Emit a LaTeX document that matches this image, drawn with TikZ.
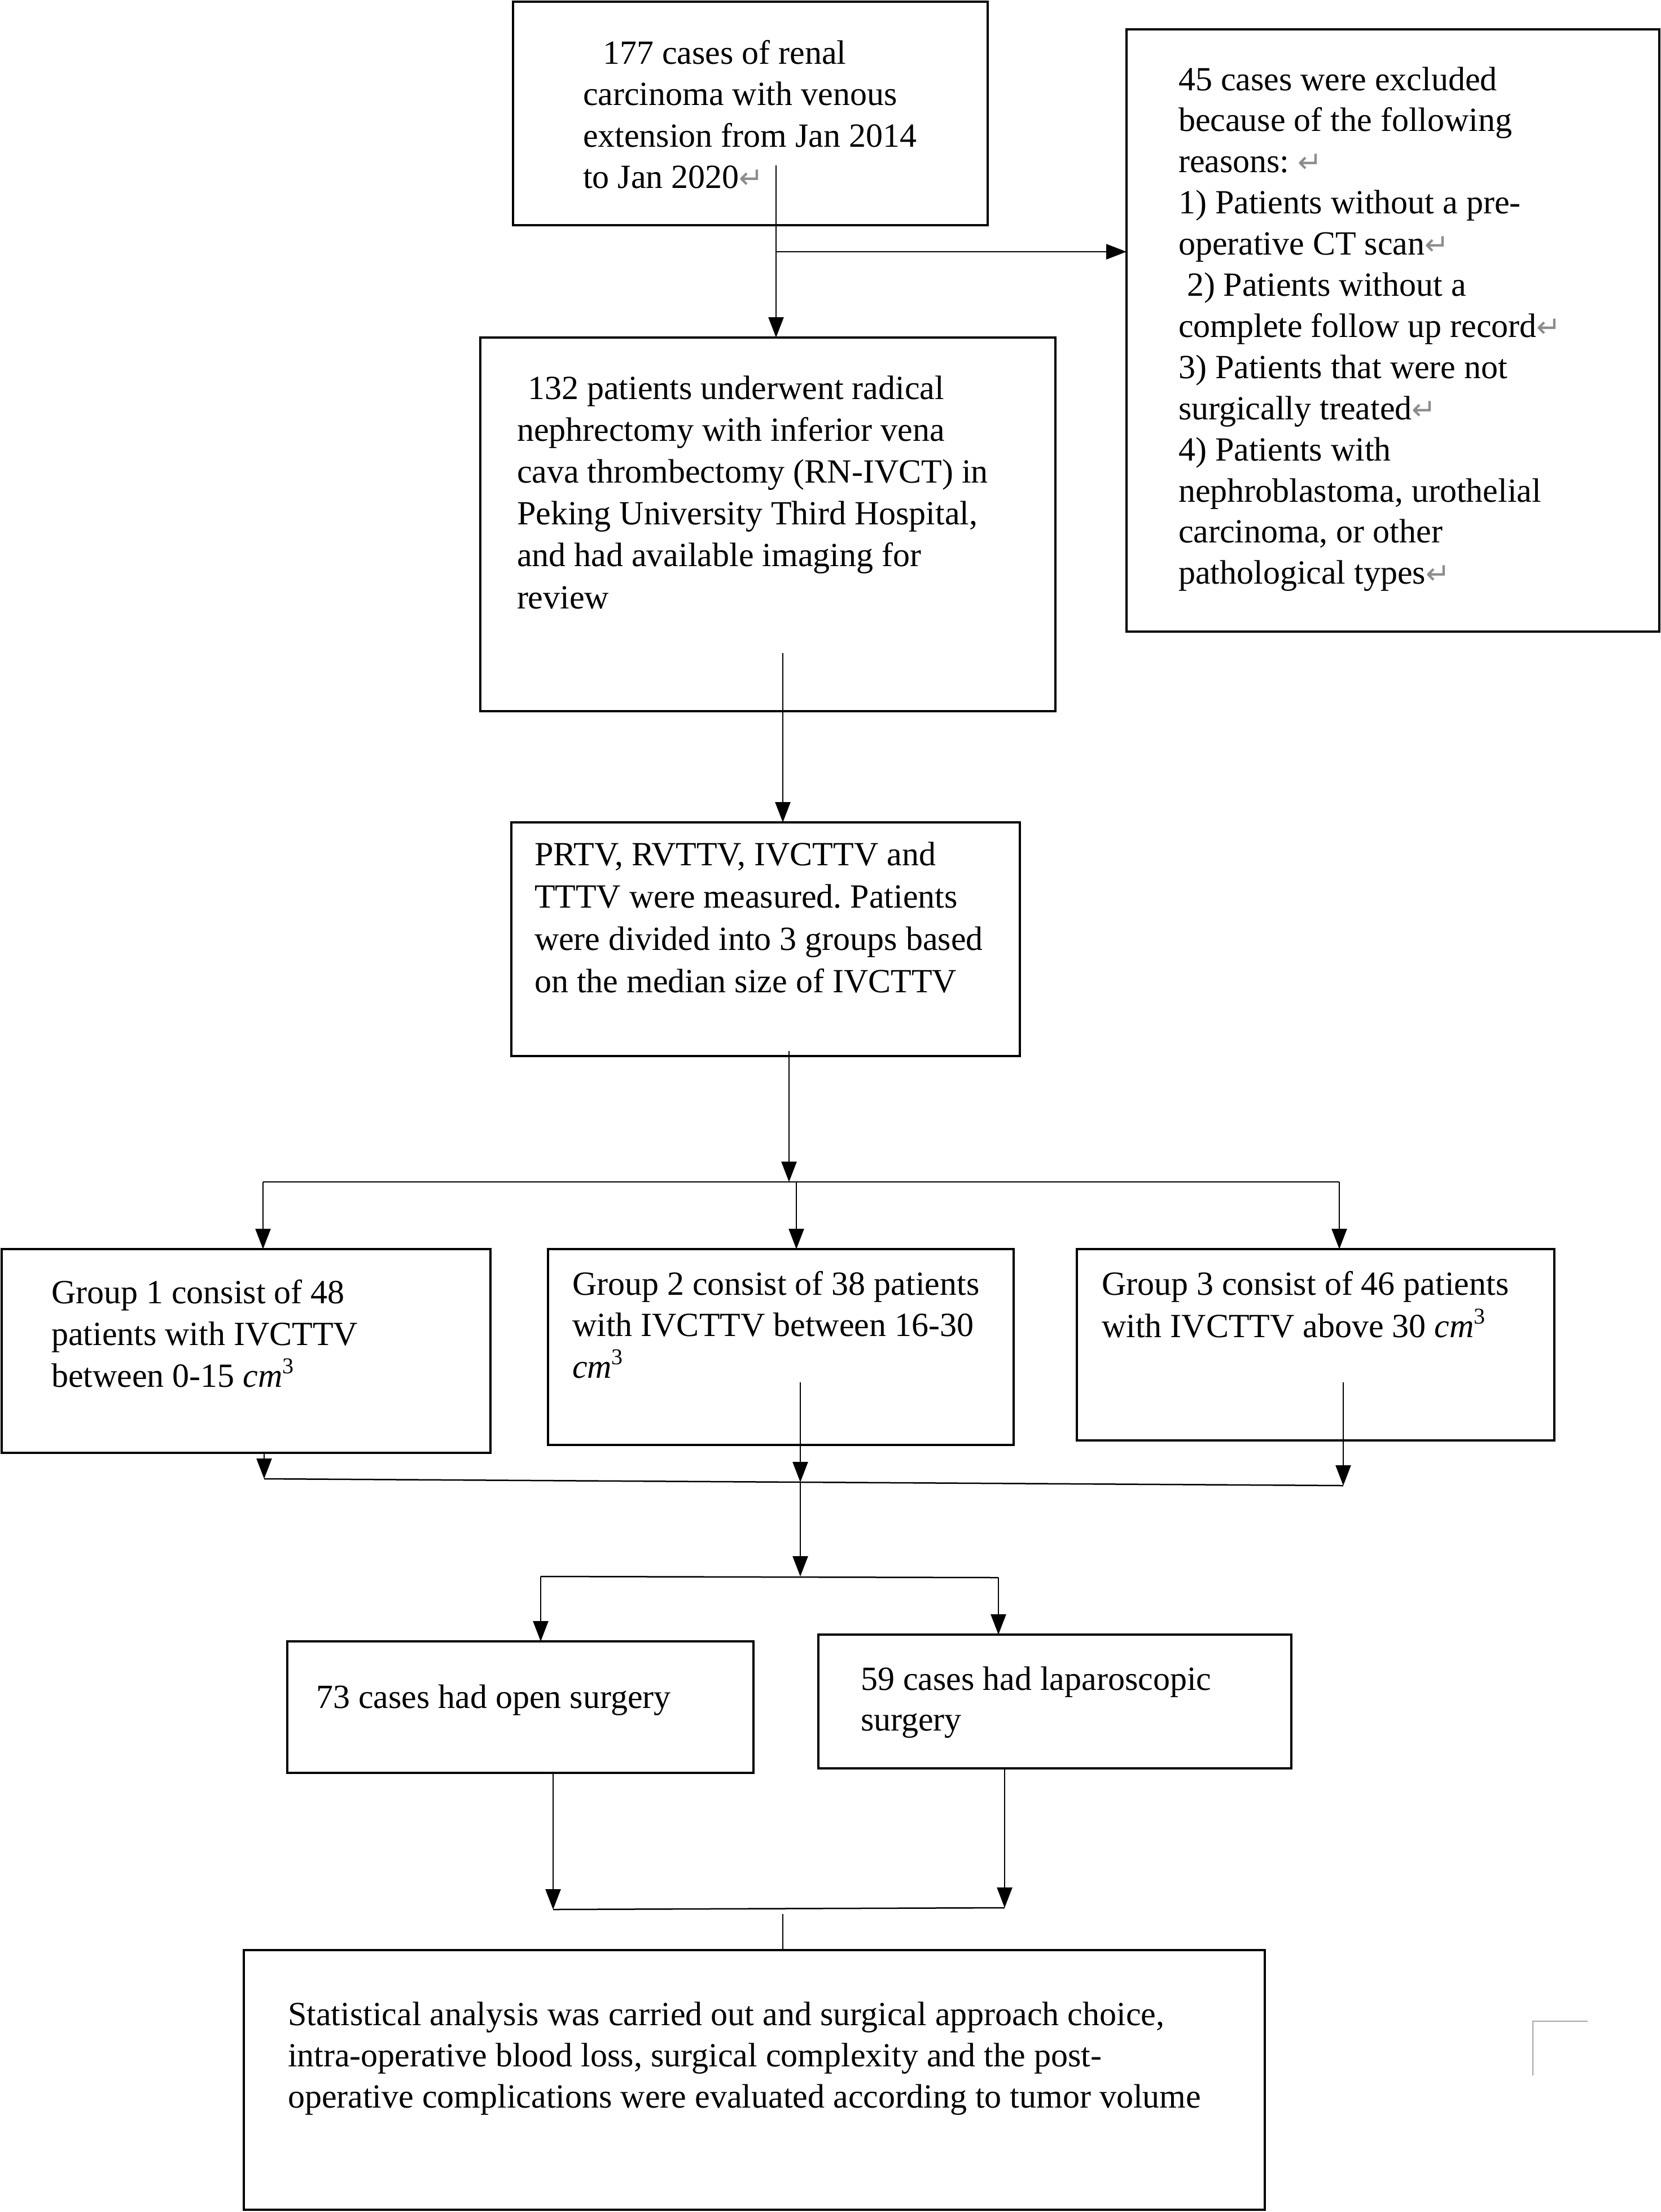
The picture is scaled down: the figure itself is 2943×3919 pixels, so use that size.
\documentclass[tikz,border=0pt]{standalone}
\usepackage{fontspec}
\setmainfont{Liberation Serif}
\newfontfamily\symfont{DejaVu Sans}
\usetikzlibrary{arrows.meta}
\frenchspacing
\newcommand\retsym{{\color{black!45}\symfont\fontsize{52}{52}\selectfont\char"21B5}}
\newcommand\cmcube{\textit{cm}\raisebox{24pt}{\fontsize{40}{40}\selectfont 3}}
\tikzset{
  box/.style={draw, line width=4.5pt, inner sep=0pt, outer sep=0pt, anchor=north west},
  txt/.style={inner sep=0pt, outer sep=0pt, anchor=base west, font=\fontsize{60}{73.5}\selectfont},
  conn/.style={line width=2.5pt},
  arr/.style={conn, -{Triangle[length=36pt,width=27pt]}},
}
\begin{document}
\begin{tikzpicture}[x=1pt,y=-1pt]
\fill[white] (0,0) rectangle (2943,3919);
\useasboundingbox (0,0) rectangle (2943,3919);

% boxes
\node[box, minimum width=841pt, minimum height=396pt] (A) at (909,3) {};
\node[box, line width=4pt, minimum width=944pt, minimum height=1067pt] (B) at (1996,52) {};
\node[box, minimum width=1019pt, minimum height=662pt] (C) at (851,598) {};
\node[box, minimum width=901pt, minimum height=414pt] (D) at (906,1457) {};
\node[box, minimum width=866pt, minimum height=361pt] (G1) at (3,2213) {};
\node[box, minimum width=825pt, minimum height=347pt] (G2) at (971,2213) {};
\node[box, minimum width=846pt, minimum height=339pt] (G3) at (1908,2213) {};
\node[box, minimum width=826pt, minimum height=233pt] (E) at (509,2908) {};
\node[box, minimum width=838pt, minimum height=237pt] (F) at (1450,2896) {};
\node[box, minimum width=1809pt, minimum height=460pt] (G) at (432,3455) {};

% texts
\node[txt] (tA) at (1033,113) {\parbox[t]{1500pt}{\raggedright
\hspace*{35pt}177 cases of renal\\
carcinoma with venous\\
extension from Jan 2014\\
to Jan 2020\retsym}};

\node[txt, font=\fontsize{60}{72.9}\selectfont] (tB) at (2088,160) {\parbox[t]{1500pt}{\raggedright
45 cases were excluded\\
because of the following\\
reasons: \retsym\\
1) Patients without a pre-\\
operative CT scan\retsym\\
\hspace*{15pt}2) Patients without a\\
complete follow up record\retsym\\
3) Patients that were not\\
surgically treated\retsym\\
4) Patients with\\
nephroblastoma, urothelial\\
carcinoma, or other\\
pathological types\retsym}};

\node[txt, font=\fontsize{60}{74.2}\selectfont] (tC) at (916,707) {\parbox[t]{1500pt}{\raggedright
\hspace*{19pt}132 patients underwent radical\\
nephrectomy with inferior vena\\
cava thrombectomy (RN-IVCT) in\\
Peking University Third Hospital,\\
and had available imaging for\\
review}};

\node[txt, font=\fontsize{60}{75}\selectfont] (tD) at (947,1533) {\parbox[t]{1500pt}{\raggedright
PRTV, RVTTV, IVCTTV and\\
TTTV were measured. Patients\\
were divided into 3 groups based\\
on the median size of IVCTTV}};

\node[txt, font=\fontsize{60}{74}\selectfont] (tG1) at (91,2309) {\parbox[t]{1500pt}{\raggedright
Group 1 consist of 48\\
patients with IVCTTV\\
between 0-15 \cmcube}};

\node[txt, font=\fontsize{60}{73.5}\selectfont] (tG2) at (1014,2294) {\parbox[t]{1500pt}{\raggedright
Group 2 consist of 38 patients\\
with IVCTTV between 16-30\\
\cmcube}};

\node[txt, font=\fontsize{60}{75}\selectfont] (tG3) at (1952,2294) {\parbox[t]{1500pt}{\raggedright
Group 3 consist of 46 patients\\
with IVCTTV above 30 \cmcube}};

\node[txt] (tE) at (560,3026) {73 cases had open surgery};

\node[txt, font=\fontsize{60}{72}\selectfont] (tF) at (1525,2994) {\parbox[t]{1500pt}{\raggedright
59 cases had laparoscopic\\
surgery}};

\node[txt, font=\fontsize{60}{73}\selectfont] (tG) at (510,3588) {\parbox[t]{2000pt}{\raggedright
Statistical analysis was carried out and surgical approach choice,\\
intra-operative blood loss, surgical complexity and the post-\\
operative complications were evaluated according to tumor volume}};

% connector points
\coordinate (a1) at (1375,293);
\coordinate (jB) at (1375,446);
\coordinate (c1) at (1387,1157);
\coordinate (d1) at (1398,1862);
\coordinate (s1) at (1398,2094);
\coordinate (sL) at (466,2094);
\coordinate (sM) at (1411,2094);
\coordinate (sR) at (2373,2094);
\coordinate (mL) at (468,2620);
\coordinate (mM) at (1418,2626);
\coordinate (mR) at (2380,2632);
\coordinate (g2i) at (1418,2449);
\coordinate (g3i) at (2380,2449);
\coordinate (t1) at (1418,2793);
\coordinate (tL) at (958,2793);
\coordinate (tR) at (1769,2795);
\coordinate (bL) at (980,3383);
\coordinate (bR) at (1780,3380);
\coordinate (b1) at (1387,3391);

% connectors
\draw[arr] (a1) -- (a1 |- C.north);
\draw[arr] (jB) -- (jB -| B.west);
\draw[arr] (c1) -- (c1 |- D.north);
\draw[arr] (d1) -- (s1);
\draw[conn] (sL) -- (sR);
\draw[arr] (sL) -- (sL |- G1.north);
\draw[arr] (sM) -- (sM |- G2.north);
\draw[arr] (sR) -- (sR |- G3.north);
\draw[arr] (G1.south -| mL) -- (mL);
\draw[arr] (g2i) -- (mM);
\draw[arr] (g3i) -- (mR);
\draw[conn] (mL) -- (mR);
\draw[arr] (mM) -- (t1);
\draw[conn] (tL) -- (tR);
\draw[arr] (tL) -- (tL |- E.north);
\draw[arr] (tR) -- (tR |- F.north);
\draw[arr] (E.south -| bL) -- (bL);
\draw[arr] (F.south -| bR) -- (bR);
\draw[conn] (bL) -- (bR);
\draw[conn] (b1) -- (b1 |- G.north);

% small gray corner mark
\draw[black!35, line width=2.5pt] (2813,3581) -- (2716,3581) -- (2716,3677);
\end{tikzpicture}
\end{document}
